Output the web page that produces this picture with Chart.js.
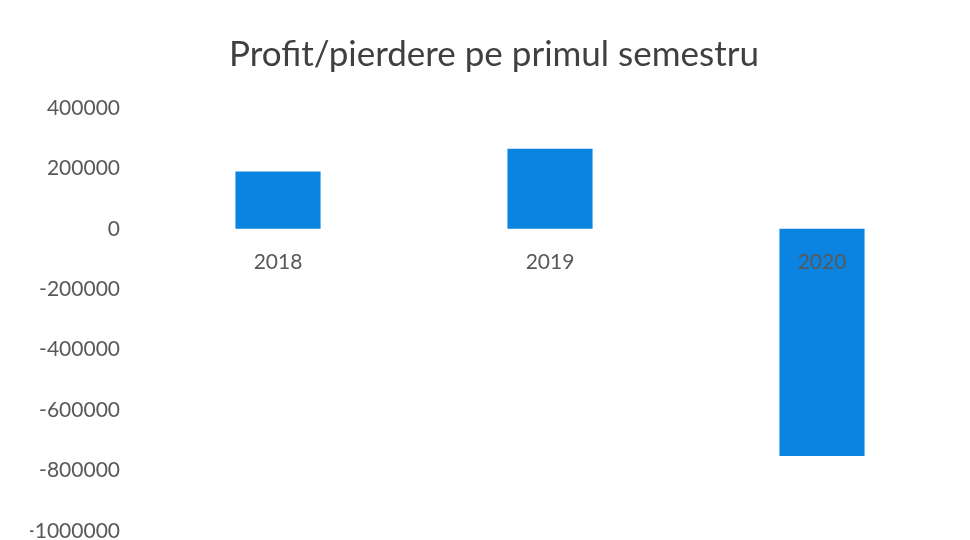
<!DOCTYPE html>
<html>
<head>
<meta charset="utf-8">
<script src="https://cdn.jsdelivr.net/npm/chart.js@4.4.1/dist/chart.umd.min.js"></script>
<style>
  html, body { margin: 0; padding: 0; background: #ffffff; }
  #profitChart { display: block; }
</style>
</head>
<body>
<canvas id="profitChart" width="970" height="540"></canvas>
<script>
const years = ["2018", "2019", "2020"];
const profitValues = [190000, 265000, -752000];
const yTicks = [-1000000, -800000, -600000, -400000, -200000, 0, 200000, 400000];

const textColor = "#595959";

const profitCtx = document.getElementById("profitChart").getContext("2d");
const profitChart = new Chart(profitCtx, {
  type: "bar",
  data: {
    labels: years,
    datasets: [{
      label: "Profit/pierdere",
      data: profitValues,
      backgroundColor: "#0a84e0",
      borderWidth: 0,
      categoryPercentage: 1,
      barPercentage: 0.313
    }]
  },
  options: {
    responsive: false,
    animation: false,
    layout: {
      // left padding only nudges the title centre to the right
      padding: { left: 30, right: 12, top: 0, bottom: 0 }
    },
    plugins: {
      legend: { display: false },
      tooltip: { enabled: false },
      title: {
        display: true,
        text: "Profit/pierdere pe primul semestru",
        color: "#404040",
        font: { family: "Lato", size: 35, weight: "normal", lineHeight: 1.2 },
        padding: { top: 34, bottom: 32 }
      }
    },
    scales: {
      x: {
        position: { y: 0 },
        offset: true,
        afterFit: (scale) => {
          scale.height = 0;
        },
        grid: { display: false, drawTicks: false },
        border: { display: false },
        ticks: {
          z: 1,
          color: textColor,
          padding: 23,
          font: { family: "Lato", size: 21, lineHeight: 1 }
        }
      },
      y: {
        min: yTicks[0],
        max: yTicks[yTicks.length - 1],
        afterBuildTicks: (scale) => {
          scale.ticks = yTicks.map(v => ({ value: v }));
        },
        afterFit: (scale) => {
          scale.width = 112;
          // the bottom label is cut off in the original, so don't reserve room for it
          scale.paddingTop = 0;
          scale.paddingBottom = 9;
        },
        grid: { display: false, drawTicks: false },
        border: { display: false },
        ticks: {
          color: textColor,
          padding: 22,
          font: { family: "Lato", size: 21, lineHeight: 1 },
          callback: (value) => String(value)
        }
      }
    }
  }
});
</script>
</body>
</html>
